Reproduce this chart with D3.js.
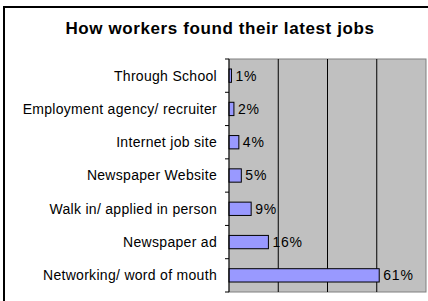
<!DOCTYPE html>
<html>
<head>
<meta charset="utf-8">
<script src="https://cdn.jsdelivr.net/npm/d3@7"></script>
<style>
  html, body { margin: 0; padding: 0; background: #fff; }
  svg { display: block; font-family: "Liberation Sans", Arial, sans-serif; }
</style>
</head>
<body>
<svg width="428" height="301"></svg>
<script>
const width = 428;
const height = 301;

// data
const categories = ['Through School', 'Employment agency/ recruiter', 'Internet job site',
  'Newspaper Website', 'Walk in/ applied in person', 'Newspaper ad', 'Networking/ word of mouth'];
const values = [1, 2, 4, 5, 9, 16, 61];
const xTicks = [0, 20, 40, 60, 80];

const svg = d3.select('svg');

// outer chart border (runs off the right and bottom edges)
svg.append('rect')
  .attr('x', 4).attr('y', 7)
  .attr('width', 440).attr('height', 310)
  .attr('fill', '#fff')
  .attr('stroke', '#000')
  .attr('stroke-width', 2);

svg.append('text')
  .attr('x', 220).attr('y', 34)
  .attr('text-anchor', 'middle')
  .attr('font-size', 17)
  .attr('letter-spacing', 0.6)
  .attr('font-weight', 'bold')
  .text('How workers found their latest jobs');

const plot = { left: 229, right: 426, top: 59, bottom: 292 };

const x = d3.scaleLinear().domain([0, 80]).range([plot.left, plot.right]);
const y = d3.scaleBand().domain(categories).range([plot.top, plot.bottom]).paddingInner(0.6).paddingOuter(0.3);
const yb = d3.scaleBand().domain(categories).range([plot.top, plot.bottom]);

// grey plot area
svg.append('rect')
  .attr('x', plot.left).attr('y', plot.top)
  .attr('width', plot.right - plot.left).attr('height', plot.bottom - plot.top)
  .attr('fill', '#c0c0c0')
  .attr('stroke', '#808080')
  .attr('stroke-width', 1);

// vertical gridlines
svg.append('g')
  .selectAll('line')
  .data(xTicks.slice(1, -1))
  .join('line')
  .attr('x1', d => x(d)).attr('x2', d => x(d))
  .attr('y1', plot.top).attr('y2', plot.bottom)
  .attr('stroke', '#000')
  .attr('stroke-width', 1);

// bars
svg.append('g')
  .selectAll('rect')
  .data(values)
  .join('rect')
  .attr('x', x(0))
  .attr('y', (d, i) => y(categories[i]))
  .attr('width', d => x(d) - x(0))
  .attr('height', y.bandwidth())
  .attr('fill', '#9999ff')
  .attr('stroke', '#000')
  .attr('stroke-width', 1);

// value labels
svg.append('g')
  .selectAll('text')
  .data(values)
  .join('text')
  .attr('x', d => x(d) + 4)
  .attr('y', (d, i) => y(categories[i]) + y.bandwidth() / 2)
  .attr('dy', '0.35em')
  .attr('font-size', 14)
  .attr('letter-spacing', 0.8)
  .attr('fill', '#000')
  .text(d => d + '%');

// left axis with ticks at band edges
const axis = svg.append('g');
axis.append('line')
  .attr('x1', plot.left).attr('x2', plot.left)
  .attr('y1', plot.top).attr('y2', plot.bottom)
  .attr('stroke', '#000');
axis.selectAll('line.tick')
  .data(categories.concat(['end']))
  .join('line')
  .attr('class', 'tick')
  .attr('x1', plot.left - 4).attr('x2', plot.left)
  .attr('y1', d => d === 'end' ? plot.bottom : yb(d))
  .attr('y2', d => d === 'end' ? plot.bottom : yb(d))
  .attr('stroke', '#000');

axis.selectAll('text')
  .data(categories)
  .join('text')
  .attr('x', plot.left - 12)
  .attr('y', d => yb(d) + yb.bandwidth() / 2)
  .attr('dy', '0.35em')
  .attr('text-anchor', 'end')
  .attr('font-size', 14)
  .attr('letter-spacing', 0.3)
  .text(d => d);
</script>
</body>
</html>
